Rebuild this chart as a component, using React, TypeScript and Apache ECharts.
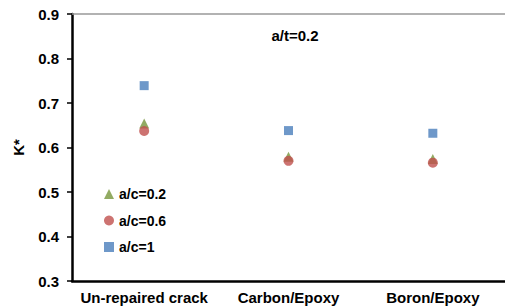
import React, { useEffect, useRef } from "react";
import * as echarts from "echarts";

const categories = ["Un-repaired crack", "Carbon/Epoxy", "Boron/Epoxy"];
const seriesNames = ["a/c=0.2", "a/c=0.6", "a/c=1"];
const ac02 = [0.654, 0.579, 0.574];
const ac06 = [0.637, 0.57, 0.566];
const ac1 = [0.739, 0.638, 0.632];
const yTicks = { min: 0.3, max: 0.9, interval: 0.1 };
const chartTitle = "a/t=0.2";
const yName = "K*";

const FONT = "'Liberation Sans', Arial, sans-serif";

export default function App() {
  const ref = useRef<HTMLDivElement>(null);
  useEffect(() => {
    if (!ref.current) return;
    const chart = echarts.init(ref.current, null, { renderer: "svg" });
    chart.setOption({
      animation: false,
      textStyle: { fontFamily: FONT },
      title: {
        text: chartTitle,
        left: 290,
        top: 23,
        textAlign: "center",
        textStyle: { fontSize: 15, fontWeight: "bold", color: "#000", fontFamily: FONT },
      },
      legend: {
        orient: "vertical",
        left: 99,
        top: 182,
        itemWidth: 10,
        itemHeight: 10,
        itemGap: 12.5,
        data: seriesNames,
        textStyle: { fontSize: 14, fontWeight: "bold", color: "#000", fontFamily: FONT },
      },
      grid: { left: 72, right: -8, top: 14, bottom: 25, containLabel: false },
      xAxis: [
        {
          type: "category",
          data: categories,
          axisLine: { lineStyle: { color: "#000", width: 2.5 } },
          axisTick: { show: false },
          axisLabel: { fontSize: 15, fontWeight: "bold", color: "#000", margin: 9, fontFamily: FONT, interval: 0 },
          splitLine: { show: false },
        },
        {
          type: "category",
          data: categories,
          position: "top",
          axisLine: { lineStyle: { color: "#999", width: 1.5 } },
          axisTick: { show: false },
          axisLabel: { show: false },
        },
      ],
      yAxis: {
        type: "value",
        min: yTicks.min,
        max: yTicks.max,
        interval: yTicks.interval,
        name: yName,
        nameLocation: "middle",
        nameGap: 46,
        nameTextStyle: { fontSize: 15, fontWeight: "bold", color: "#000", fontFamily: FONT },
        axisLine: { show: true, lineStyle: { color: "#000", width: 2.5 } },
        axisTick: { show: true, length: 5, lineStyle: { color: "#000", width: 1.5 } },
        axisLabel: {
          fontSize: 15,
          fontWeight: "bold",
          color: "#000",
          margin: 13,
          fontFamily: FONT,
          formatter: (v: number) => v.toFixed(1),
        },
        splitLine: { show: false },
      },
      series: [
        {
          name: seriesNames[0],
          type: "scatter",
          symbol: "triangle",
          symbolSize: [10, 10],
          itemStyle: { color: "#77963C" },
          data: ac02,
        },
        {
          name: seriesNames[1],
          type: "scatter",
          symbol: "circle",
          symbolSize: 10,
          itemStyle: { color: "#C0504D" },
          data: ac06,
        },
        {
          name: seriesNames[2],
          type: "scatter",
          symbol: "rect",
          symbolSize: 9,
          itemStyle: { color: "#4A7EBB" },
          data: ac1,
        },
      ],
    });
    return () => chart.dispose();
  }, []);
  return (
    <div
      ref={ref}
      style={{ position: "absolute", left: 0, top: 0, width: 505, height: 306 }}
    />
  );
}
